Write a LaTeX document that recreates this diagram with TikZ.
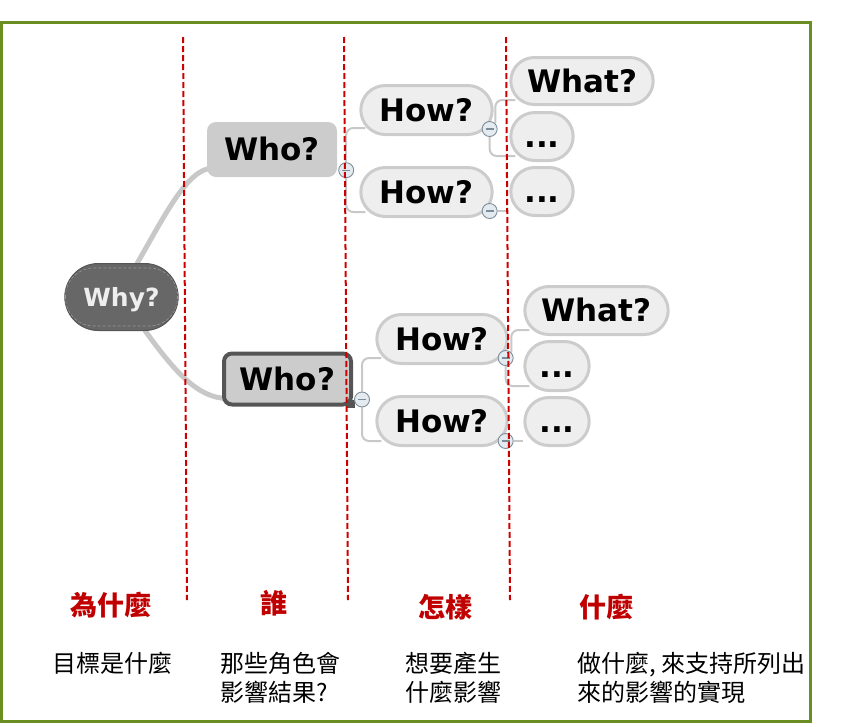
\documentclass[tikz,border=0pt]{standalone}
\usepackage{fontspec}
\setmainfont{DejaVu Sans}
\newfontfamily\cjk{Noto Sans CJK TC}
\usepackage{tikz}
\usetikzlibrary{shapes,positioning,calc,backgrounds}
\usepackage{xcolor}
\definecolor{rootfill}{RGB}{103,103,103}
\definecolor{rootline}{RGB}{85,85,85}
\definecolor{rootdash}{RGB}{150,150,150}
\definecolor{roottext}{RGB}{238,238,238}
\definecolor{whofill}{RGB}{204,204,204}
\definecolor{selline}{RGB}{85,85,85}
\definecolor{leaffill}{RGB}{238,238,238}
\definecolor{leafline}{RGB}{204,204,204}
\definecolor{branchgray}{RGB}{200,200,200}
\definecolor{foldline}{RGB}{125,140,153}
\definecolor{foldfill}{RGB}{228,235,240}
\definecolor{divred}{RGB}{204,0,0}
\definecolor{titlered}{RGB}{192,0,0}
\definecolor{frame}{RGB}{107,142,35}

\begin{document}
\begin{tikzpicture}[x=1pt, y=-1pt]
  % Styles
  \tikzstyle{root} = [rounded rectangle, draw=rootline, fill=rootfill, line width=1pt, minimum width=120pt, minimum height=67pt, text=roottext, text height=18.3pt, text depth=0pt, font=\bfseries\fontsize{25}{30}\selectfont]
  \tikzstyle{who} = [rectangle, rounded corners=9pt, fill=whofill, minimum width=130pt, minimum height=55pt, text height=22.6pt, text depth=0pt, font=\bfseries\fontsize{31}{36}\selectfont]
  \tikzstyle{whosel} = [who, draw=selline, line width=4pt, rounded corners=8pt, minimum width=127pt, minimum height=51pt]
  \tikzstyle{leaf} = [rounded rectangle, draw=leafline, fill=leaffill, line width=3pt, minimum height=49pt, text height=22.6pt, text depth=0pt, font=\bfseries\fontsize{31}{36}\selectfont]
  \tikzstyle{fold} = [circle, draw=foldline, fill=foldfill, line width=0.9pt, minimum size=15pt, inner sep=0pt, path picture={\draw[line width=1.4pt] ([xshift=-4pt]path picture bounding box.center) -- ([xshift=4pt]path picture bounding box.center);}]
  \tikzstyle{trunk} = [draw=branchgray, line width=5pt, line cap=round]
  \tikzstyle{branch} = [draw=branchgray, line width=2pt, rounded corners=7pt]
  \tikzstyle{divider} = [draw=divred, line width=2pt, dash pattern=on 6pt off 3pt]
  \tikzstyle{title} = [text=titlered, font=\cjk\bfseries\fontsize{27}{30}\selectfont]
  \tikzstyle{note} = [anchor=north west, align=left, inner sep=0pt, font=\cjk\fontsize{24}{29}\selectfont]

  \useasboundingbox (0,0) rectangle (841,726);
  \draw[frame, line width=3pt] (1.5,22.5) rectangle (810,721.5);

  % Nodes
  \node[root] (why) at (121.5,297) {Why?};
  \draw[rootdash, line width=0.6pt, dash pattern=on 3pt off 2pt, rounded corners=28pt] ([xshift=-56pt,yshift=29pt]why.center) rectangle ([xshift=56pt,yshift=-29pt]why.center);

  \node[who] (whoA) at (272,149.5) {Who?};
  \node[whosel] (whoB) at (287.5,379) {Who?};
  \fill[selline] ([xshift=-7pt,yshift=7pt]whoB.south east) rectangle ([xshift=2pt,yshift=-1pt]whoB.south east);

  \node[leaf, minimum width=138pt] (howA1) at (426.5,110) {How?};
  \node[leaf, minimum width=138pt] (howA2) at (426.5,192) {How?};
  \node[leaf, minimum width=149pt, minimum height=47pt] (whatA) at (582,81) {What?};
  \node[leaf, minimum width=69pt, minimum height=48pt] (dotsA1) at (542,136.5) {...};
  \node[leaf, minimum width=69pt, minimum height=48pt] (dotsA2) at (542,191.5) {...};

  \node[leaf, minimum width=137pt] (howB1) at (442,339) {How?};
  \node[leaf, minimum width=137pt] (howB2) at (442,421) {How?};
  \node[leaf, minimum width=150pt, minimum height=48pt] (whatB) at (596.5,310.5) {What?};
  \node[leaf, minimum width=71pt] (dotsB1) at (557,366) {...};
  \node[leaf, minimum width=71pt, minimum height=48pt] (dotsB2) at (557,421.5) {...};

  % Folds
  \node[fold] (fWhoA) at ([xshift=9pt,yshift=7pt]whoA.south east) {};
  \node[fold] (fWhoB) at ([xshift=9pt,yshift=7pt]whoB.south east) {};
  \node[fold] (fHowA1) at ([xshift=-4pt,yshift=-19pt]howA1.east) {};
  \node[fold] (fHowA2) at ([xshift=-4pt,yshift=-19pt]howA2.east) {};
  \node[fold] (fHowB1) at ([xshift=-3pt,yshift=-19pt]howB1.east) {};
  \node[fold] (fHowB2) at ([xshift=-3pt,yshift=-20pt]howB2.east) {};

  % Edges
  \begin{scope}[on background layer]
    \path[trunk] (why.65) .. controls (165,215) and (188,168) .. ([xshift=6pt,yshift=9pt]whoA.south west);
    \path[trunk] (why.-55) .. controls (175,372) and (198,398) .. ([xshift=5pt,yshift=8pt]whoB.south west);

    \path[branch] (fWhoA) |- ([xshift=6pt,yshift=-18pt]howA1.west);
    \path[branch] (fWhoA) |- ([xshift=6pt,yshift=-20pt]howA2.west);
    \path[branch] (fHowA1.north east) |- ([xshift=6pt,yshift=-19pt]whatA.west);
    \path[branch] (fHowA1) |- ([xshift=6pt,yshift=-19.5pt]dotsA1.west);
    \path[branch] (fHowA2) -- (dotsA2.west |- fHowA2);

    \path[branch] (fWhoB) |- ([xshift=6pt,yshift=-19pt]howB1.west);
    \path[branch] (fWhoB) |- ([xshift=6pt,yshift=-20pt]howB2.west);
    \path[branch] (fHowB1.north east) |- ([xshift=6pt,yshift=-19.5pt]whatB.west);
    \path[branch] (fHowB1) |- ([xshift=6pt,yshift=-20pt]dotsB1.west);
    \path[branch] (fHowB2) -- (dotsB2.west |- fHowB2);
  \end{scope}

  % Dividers
  \draw[divider] (183,37) -- (187,600);
  \draw[divider] (344,37) -- (348,600);
  \draw[divider] (506,37) -- (510,600);

  % Labels
  \node[title] (tWhy) at (111,605) {為什麼};
  \node[title] (tWho) at (274,603) {誰};
  \node[title] (tHow) at (445,607) {怎樣};
  \node[title] (tWhat) at (606,607) {什麼};

  \node[note] (nWhy) at (52,652) {目標是什麼};
  \node[note] (nWho) at (220,652) {那些角色會\\影響結果?};
  \node[note] (nHow) at (405,652) {想要產生\\什麼影響};
  \node[note] (nWhat) at (577,652) {做什麼, 來支持所列出\\來的影響的實現};

\end{tikzpicture}
\end{document}
